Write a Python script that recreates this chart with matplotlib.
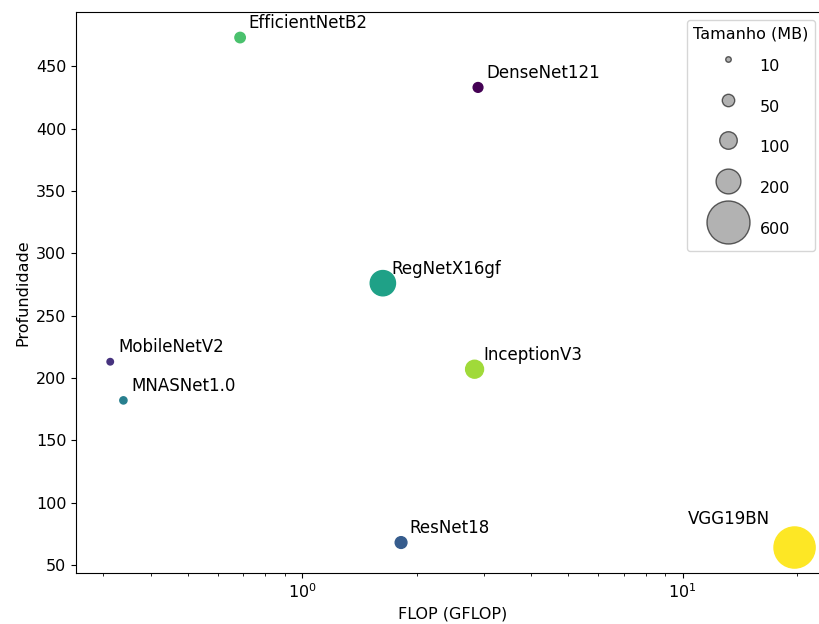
import matplotlib
matplotlib.use('Agg')
import matplotlib.pyplot as plt

# Modelos: FLOP (GFLOP), profundidade e tamanho (MB)
modelos = ['DenseNet121', 'MobileNetV2', 'ResNet18', 'MNASNet1.0',
           'RegNetX16gf', 'EfficientNetB2', 'InceptionV3', 'VGG19BN']
flop = [2.90, 0.313, 1.82, 0.339, 1.63, 0.687, 2.84, 19.7]
profundidade = [433, 213, 68, 182, 276, 473, 207, 64]
tamanho = [30.8, 13.6, 44.7, 16.9, 207, 35.2, 104, 548]
tamanhos_legenda = [10, 50, 100, 200, 600]

escala = 1.6

plt.rcParams['font.size'] = 11.5

fig = plt.figure(figsize=(8.2, 6.24), dpi=100)
ax = fig.add_axes([0.0927, 0.0817, 0.918, 0.899])

ax.scatter(flop, profundidade, s=[t * escala for t in tamanho],
           c=range(len(modelos)), cmap='viridis')

for nome, x, y in zip(modelos, flop, profundidade):
    if nome == 'VGG19BN':
        ax.annotate(nome, (x, y), xytext=(-18, 14), textcoords='offset points',
                    ha='right', va='bottom', fontsize=12)
    else:
        ax.annotate(nome, (x, y), xytext=(6, 4), textcoords='offset points',
                    ha='left', va='bottom', fontsize=12)

ax.set_xscale('log')
ax.set_xlabel('FLOP (GFLOP)')
ax.set_ylabel('Profundidade')

# Legenda com os tamanhos
for t in tamanhos_legenda:
    ax.scatter([], [], s=t * escala, c='gray', alpha=0.6, edgecolors='k',
               label=str(t))
ax.legend(title='Tamanho (MB)', loc='upper right', labelspacing=0.55,
          handleheight=2.7, handletextpad=1.0,
          bbox_to_anchor=(815 / 820, 604 / 624), bbox_transform=fig.transFigure,
          borderaxespad=0, frameon=True)

plt.savefig('out.png', dpi=100)
